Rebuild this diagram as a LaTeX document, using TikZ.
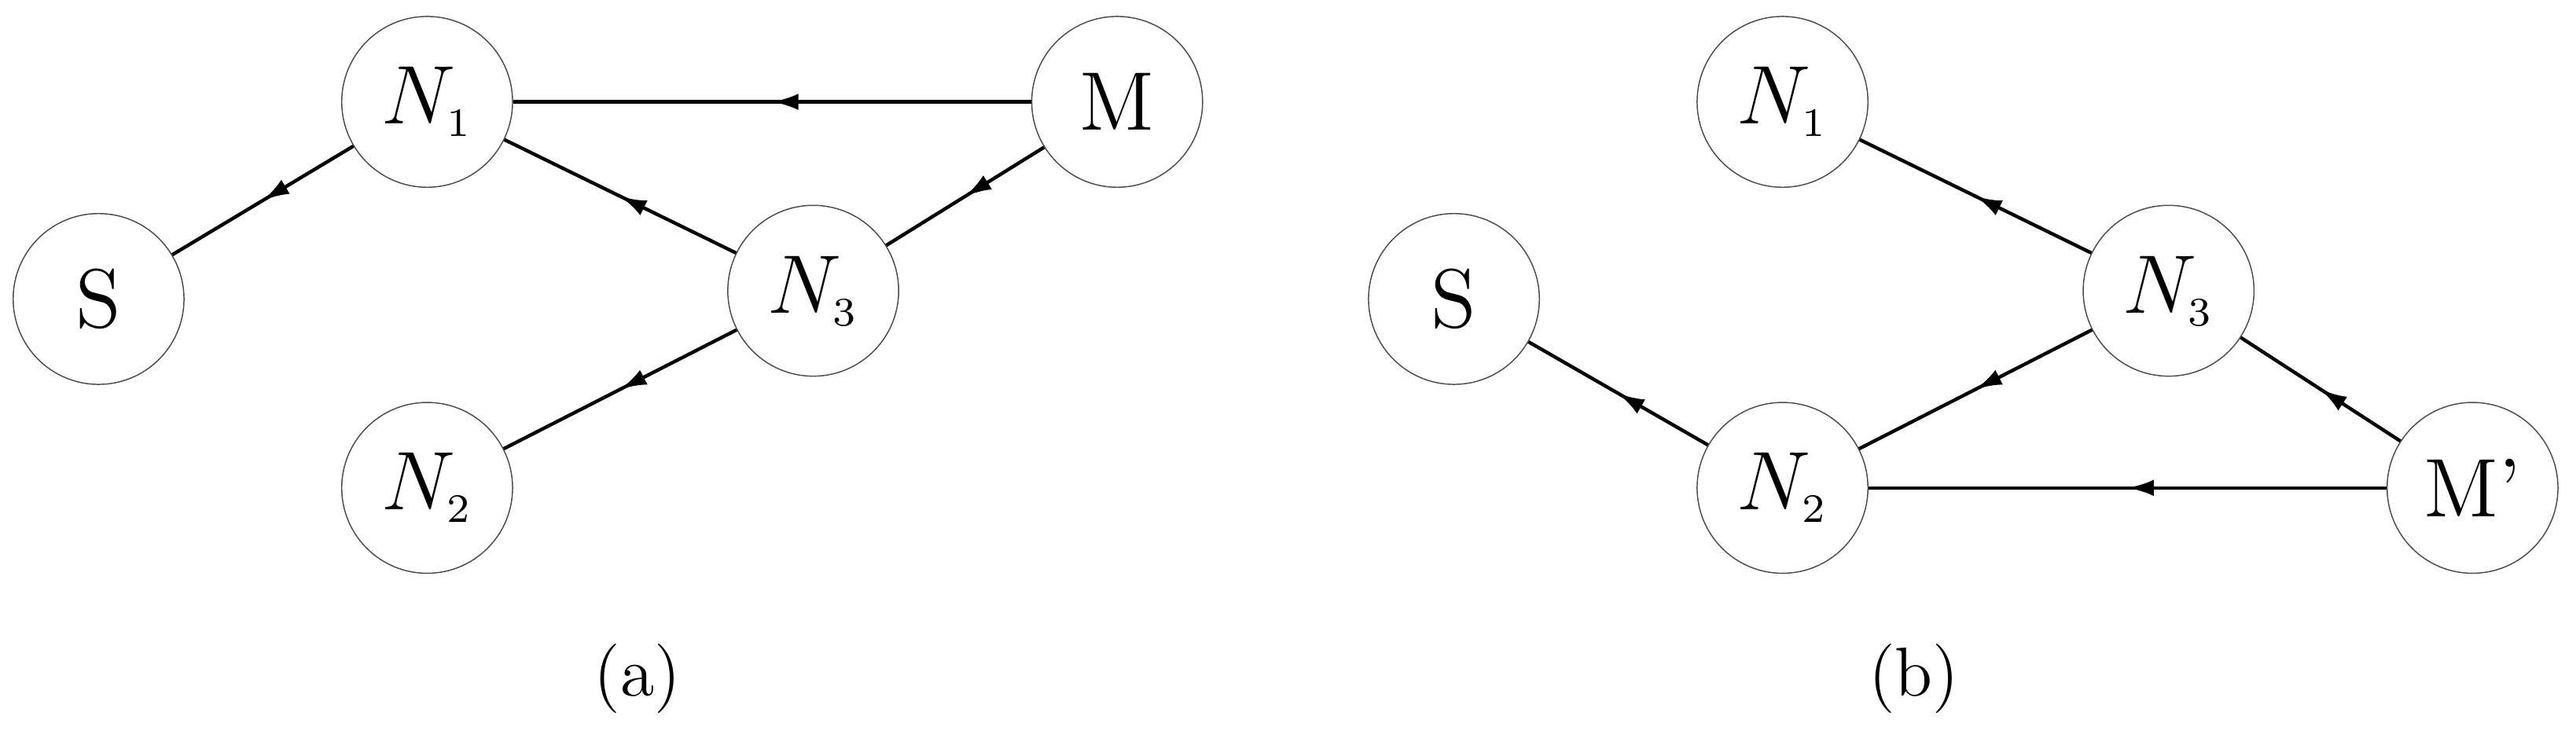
\documentclass[tikz,border=0pt]{standalone}
\usetikzlibrary{decorations.markings,arrows.meta}
\tikzset{
  st/.style={circle,draw=black!70,very thin,minimum size=1.04cm,inner sep=0pt,font=\Large},
  flow/.style={semithick,postaction={decorate},decoration={markings,
      mark=at position 0.5 with {\arrow{Latex[length=1.6mm,width=1mm]}}}}
}
\begin{document}
\begin{tikzpicture}
  \useasboundingbox (0,0) rectangle (15.68,4.49);
  % (a)
  \node[st] (N1a) at (2.60,3.87) {$N_{\scriptscriptstyle 1}$};
  \node[st] (Ma)  at (6.80,3.87) {M};
  \node[st] (Sa)  at (0.60,2.67) {S};
  \node[st] (N3a) at (4.95,2.72) {$N_{\scriptscriptstyle 3}$};
  \node[st] (N2a) at (2.60,1.52) {$N_{\scriptscriptstyle 2}$};
  \node[font=\large] (la) at (3.88,0.36) {(a)};
  \draw[flow] (N1a) -- (Sa);
  \draw[flow] (Ma) -- (N1a);
  \draw[flow] (N3a) -- (N1a);
  \draw[flow] (Ma) -- (N3a);
  \draw[flow] (N3a) -- (N2a);
  % (b)
  \node[st] (N1b) at (10.85,3.87) {$N_{\scriptscriptstyle 1}$};
  \node[st] (Sb)  at (8.85,2.67) {S};
  \node[st] (N3b) at (13.20,2.72) {$N_{\scriptscriptstyle 3}$};
  \node[st] (N2b) at (10.85,1.52) {$N_{\scriptscriptstyle 2}$};
  \node[st] (Mb)  at (15.05,1.52) {M'};
  \node[font=\large] (lb) at (11.65,0.36) {(b)};
  \draw[flow] (N3b) -- (N1b);
  \draw[flow] (N3b) -- (N2b);
  \draw[flow] (N2b) -- (Sb);
  \draw[flow] (Mb) -- (N3b);
  \draw[flow] (Mb) -- (N2b);
\end{tikzpicture}
\end{document}
